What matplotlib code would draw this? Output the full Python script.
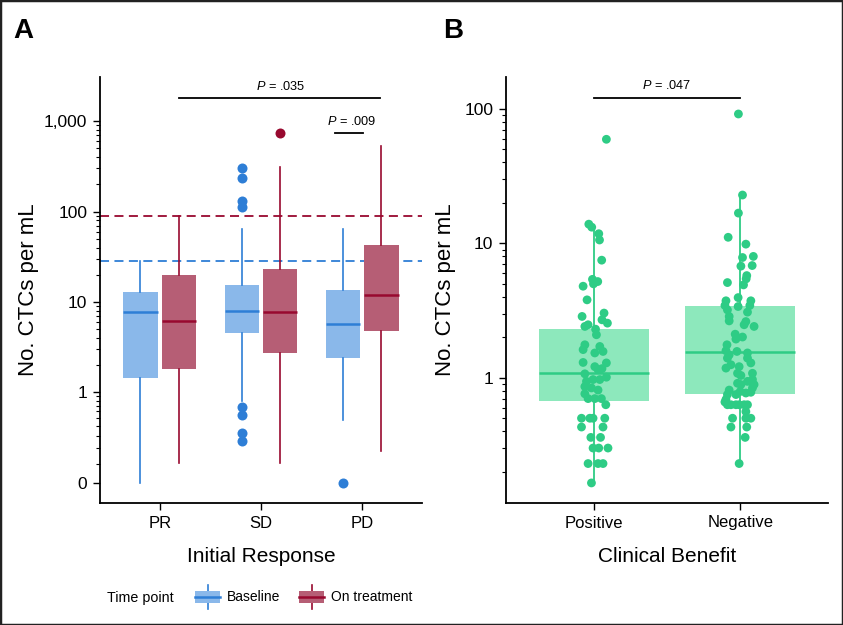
import matplotlib
matplotlib.use('Agg')
import matplotlib.pyplot as plt
from matplotlib.patches import Rectangle, Patch
from matplotlib.lines import Line2D
from matplotlib.legend_handler import HandlerBase
from matplotlib.ticker import FixedLocator, NullFormatter, LogLocator

plt.rcParams['font.family'] = ['Liberation Sans', 'DejaVu Sans']
plt.rcParams['mathtext.fontset'] = 'custom'
plt.rcParams['mathtext.it'] = 'Liberation Sans:italic'
plt.rcParams['mathtext.rm'] = 'Liberation Sans'

# ---- panel A: CTCs by initial response ----
groups = ['PR', 'SD', 'PD']
base_q1 = [1.44, 4.56, 2.4]
base_med = [7.7, 8.0, 5.7]
base_q3 = [12.9, 15.4, 13.6]
base_lo = [0, 0.79, 0.48]
base_hi = [28.4, 64, 64.5]
base_out = [[], [303, 235, 131, 113, 0.68, 0.54, 0.33, 0.26], [0]]

treat_q1 = [1.81, 2.74, 4.8]
treat_med = [6.2, 7.7, 11.9]
treat_q3 = [19.8, 23.3, 42.8]
treat_lo = [0.104, 0.104, 0.18]
treat_hi = [89.8, 313, 530]
treat_out = [[], [733], []]

base_cut = 28.4
treat_cut = 89.8

# ---- panel B: CTCs by clinical benefit ----
benefit = ['Positive', 'Negative']
b_q1 = [0.675, 0.76]
b_med = [1.09, 1.56]
b_q3 = [2.31, 3.43]
b_lo = [0.166, 0.23]
b_hi = [12.6, 22.9]

pos_vals = [59.5, 13.9, 13.2, 11.8, 10.6, 7.5, 5.4, 5.2, 5.0, 4.8, 3.8,
            2.86, 2.48, 2.41, 2.30, 3.03, 2.70, 2.55, 2.09, 1.76, 1.62, 1.71,
            1.57, 1.53, 1.30, 1.29, 1.21, 1.15, 1.17, 1.01, 1.07, 0.94, 0.97,
            0.97, 0.86, 0.84, 0.81, 0.76, 0.70, 0.70, 0.70, 0.63,
            0.50, 0.50, 0.50, 0.50, 0.43, 0.43, 0.36, 0.36,
            0.30, 0.30, 0.30, 0.23, 0.23, 0.23, 0.165]
pos_dx = [0.086, -0.034, -0.014, 0.034, 0.039, 0.054, -0.009, 0.027, -0.002, -0.073, -0.046,
          -0.080, -0.039, -0.061, 0.012, 0.070, 0.056, 0.093, 0.018, -0.061, -0.073, 0.041,
          0.063, 0.007, -0.073, 0.086, 0.007, 0.029, 0.056, 0.086, -0.061, -0.050, -0.005,
          0.041, -0.061, -0.016, 0.029, -0.061, -0.039, 0.007, 0.052, 0.082,
          -0.084, -0.027, -0.005, 0.075, -0.084, 0.063, -0.020, 0.046,
          -0.005, 0.034, 0.097, -0.039, 0.029, 0.063, -0.016]

neg_vals = [91.8, 22.9, 16.8, 11.1, 9.87, 8.0, 7.85, 6.84, 6.77, 5.76, 5.45, 5.11, 4.91,
            3.95, 3.74, 3.45, 3.74, 3.45, 3.20, 3.39, 3.08, 2.86, 2.65, 2.62, 2.41, 2.48,
            2.11, 2.01, 1.94, 1.76, 1.59, 1.48, 1.40, 1.18, 1.57, 1.53, 1.40, 1.29, 1.08,
            1.25, 1.21, 1.08, 1.04, 0.94, 0.97, 0.89, 0.84, 0.91, 0.89, 0.75, 0.79, 0.77,
            0.78, 0.81, 0.75, 0.69, 0.66, 0.63, 0.63, 0.63, 0.63, 0.63, 0.63,
            0.56, 0.50, 0.50, 0.50, 0.43, 0.43, 0.36, 0.23]
neg_dx = [-0.012, 0.016, -0.012, -0.082, 0.039, 0.090, 0.016, 0.082, 0.005, 0.045, 0.041, -0.087, 0.023,
          -0.014, -0.097, -0.104, 0.073, 0.066, -0.087, -0.014, 0.050, -0.075, -0.075, 0.039, 0.095, 0.027,
          -0.034, 0.016, -0.029, -0.090, -0.097, -0.075, -0.087, -0.097, -0.022, 0.050, 0.050, 0.073, 0.084,
          -0.063, -0.007, -0.018, 0.005, 0.050, 0.084, 0.095, 0.084, -0.018, 0.005, -0.029, 0.0, 0.039,
          0.073, -0.075, -0.087, -0.097, -0.104, -0.087, -0.063, -0.029, -0.007, 0.027, 0.050,
          0.039, -0.052, 0.039, 0.073, -0.063, 0.045, 0.034, -0.007]

BLUE_FILL, BLUE_LINE = '#8ab8ea', '#2e7ed6'
RED_FILL, RED_LINE = '#b65e75', '#98092f'
GREEN, GREEN_FILL = '#2ecc85', '#8de8bc'


def make_stats(q1, med, q3, lo, hi, out):
    return [dict(q1=q1[i], med=med[i], q3=q3[i], whislo=lo[i], whishi=hi[i], fliers=out[i])
            for i in range(len(q1))]


def draw_boxes(ax, stats, pos, width, fill, line, flier_ms=7.2):
    ax.bxp(stats, positions=pos, widths=width, patch_artist=True, showcaps=False,
           boxprops=dict(facecolor=fill, edgecolor='none'),
           whiskerprops=dict(color=line, lw=1.2),
           medianprops=dict(color=line, lw=1.8),
           flierprops=dict(marker='o', markerfacecolor=line, markeredgecolor='none', markersize=flier_ms))


def style_axis(ax):
    for s in ['top', 'right']:
        ax.spines[s].set_visible(False)
    for s in ['left', 'bottom']:
        ax.spines[s].set_linewidth(1.3)
    ax.tick_params(axis='both', which='major', length=5, width=1.0, labelsize=12, pad=4)
    ax.tick_params(axis='y', which='minor', length=2.8, width=0.8)
    ax.tick_params(axis='x', which='minor', length=0)


class BoxHandler(HandlerBase):
    def create_artists(self, legend, orig_handle, xdescent, ydescent, width, height, fontsize, trans):
        face = orig_handle.get_facecolor()
        line = orig_handle.get_edgecolor()
        x0, y0 = -xdescent, -ydescent
        vl = Line2D([x0 + width / 2] * 2, [y0 - 0.05 * height, y0 + 1.05 * height], color=line, lw=1.2, transform=trans)
        rect = Rectangle((x0, y0 + 0.2 * height), width, 0.6 * height, facecolor=face, edgecolor='none', transform=trans)
        hl = Line2D([x0, x0 + width], [y0 + height / 2] * 2, color=line, lw=1.8, transform=trans)
        return [vl, rect, hl]


fig = plt.figure(figsize=(8.43, 6.25), dpi=100)
axA = fig.add_axes([0.1186, 0.1952, 0.382, 0.6816])
axB = fig.add_axes([0.6002, 0.1952, 0.382, 0.6816])

# panel A
xs = list(range(1, len(groups) + 1))
axA.set_yscale('asinh', linear_width=0.2)
axA.axhline(treat_cut, color=RED_LINE, lw=1.3, ls=(0, (5, 3)), zorder=1)
axA.axhline(base_cut, color=BLUE_LINE, lw=1.3, ls=(0, (5, 3)), zorder=1)
draw_boxes(axA, make_stats(base_q1, base_med, base_q3, base_lo, base_hi, base_out),
           [x - 0.19 for x in xs], 0.34, BLUE_FILL, BLUE_LINE)
draw_boxes(axA, make_stats(treat_q1, treat_med, treat_q3, treat_lo, treat_hi, treat_out),
           [x + 0.19 for x in xs], 0.34, RED_FILL, RED_LINE)
axA.set_xlim(0.41, 3.59)
axA.set_ylim(-0.107, 3070)
axA.set_xticks(xs)
axA.set_xticklabels(groups)
axA.yaxis.set_major_locator(FixedLocator([0, 1, 10, 100, 1000]))
axA.set_yticklabels(['0', '1', '10', '100', '1,000'])
minorA = [m * 10 ** e for e in range(-1, 3) for m in range(2, 10)] + [0.1]
axA.yaxis.set_minor_locator(FixedLocator(minorA))
axA.yaxis.set_minor_formatter(NullFormatter())
style_axis(axA)
axA.tick_params(axis='y', which='major', labelsize=12.5)
axA.set_ylabel('No. CTCs per mL', fontsize=16, labelpad=4)
axA.set_xlabel('Initial Response', fontsize=15, labelpad=12)

axA.plot([1.19, 3.18], [1800, 1800], color='black', lw=1.3)
axA.text(2.19, 2050, '$P$ = .035', ha='center', va='bottom', fontsize=9.2)
axA.plot([2.73, 3.01], [740, 740], color='black', lw=1.3)
axA.text(2.90, 840, '$P$ = .009', ha='center', va='bottom', fontsize=9.2)

# panel B
xb = list(range(1, len(benefit) + 1))
axB.set_yscale('log')
statsB = [dict(q1=b_q1[i], med=b_med[i], q3=b_q3[i], whislo=b_lo[i], whishi=b_hi[i], fliers=[])
          for i in range(len(benefit))]
axB.bxp(statsB, positions=xb, widths=0.75, patch_artist=True, showcaps=False,
        boxprops=dict(facecolor=GREEN_FILL, edgecolor='none'),
        whiskerprops=dict(color=GREEN, lw=1.3),
        medianprops=dict(color=GREEN, lw=1.8))
axB.scatter([1 + d for d in pos_dx], pos_vals, s=40, color=GREEN, edgecolors='none', zorder=3)
axB.scatter([2 + d for d in neg_dx], neg_vals, s=40, color=GREEN, edgecolors='none', zorder=3)
axB.set_xlim(0.4, 2.6)
axB.set_ylim(0.117, 173)
axB.set_xticks(xb)
axB.set_xticklabels(benefit)
axB.yaxis.set_major_locator(FixedLocator([1, 10, 100]))
axB.set_yticklabels(['1', '10', '100'])
axB.yaxis.set_minor_locator(LogLocator(base=10, subs=range(2, 10)))
axB.yaxis.set_minor_formatter(NullFormatter())
style_axis(axB)
axB.tick_params(axis='y', which='major', labelsize=12.5)
axB.set_ylabel('No. CTCs per mL', fontsize=16, labelpad=6)
axB.set_xlabel('Clinical Benefit', fontsize=15, labelpad=12)

axB.plot([1, 2], [121, 121], color='black', lw=1.3)
axB.text(1.5, 133, '$P$ = .047', ha='center', va='bottom', fontsize=9.2)

# panel letters
fig.text(13 / 843, 1 - 18 / 625, 'A', fontsize=20, fontweight='bold', va='top', ha='left')
fig.text(443 / 843, 1 - 18 / 625, 'B', fontsize=20, fontweight='bold', va='top', ha='left')

# legend
fig.text(107 / 843, 1 - 598 / 625, 'Time point', fontsize=10.3, va='center', ha='left')
handles = [Patch(facecolor=BLUE_FILL, edgecolor=BLUE_LINE), Patch(facecolor=RED_FILL, edgecolor=RED_LINE)]
fig.legend(handles, ['Baseline', 'On treatment'], loc='center left',
           bbox_to_anchor=(195 / 843, 1 - 597 / 625), ncol=2, frameon=False, fontsize=10,
           handler_map={Patch: BoxHandler()}, handlelength=1.8, handleheight=1.95,
           handletextpad=0.5, columnspacing=1.35, borderaxespad=0, borderpad=0)

fig.add_artist(Rectangle((0, 0), 1, 1, transform=fig.transFigure, fill=False, lw=2.5, edgecolor='#222222'))

fig.savefig('out.png', dpi=100)
